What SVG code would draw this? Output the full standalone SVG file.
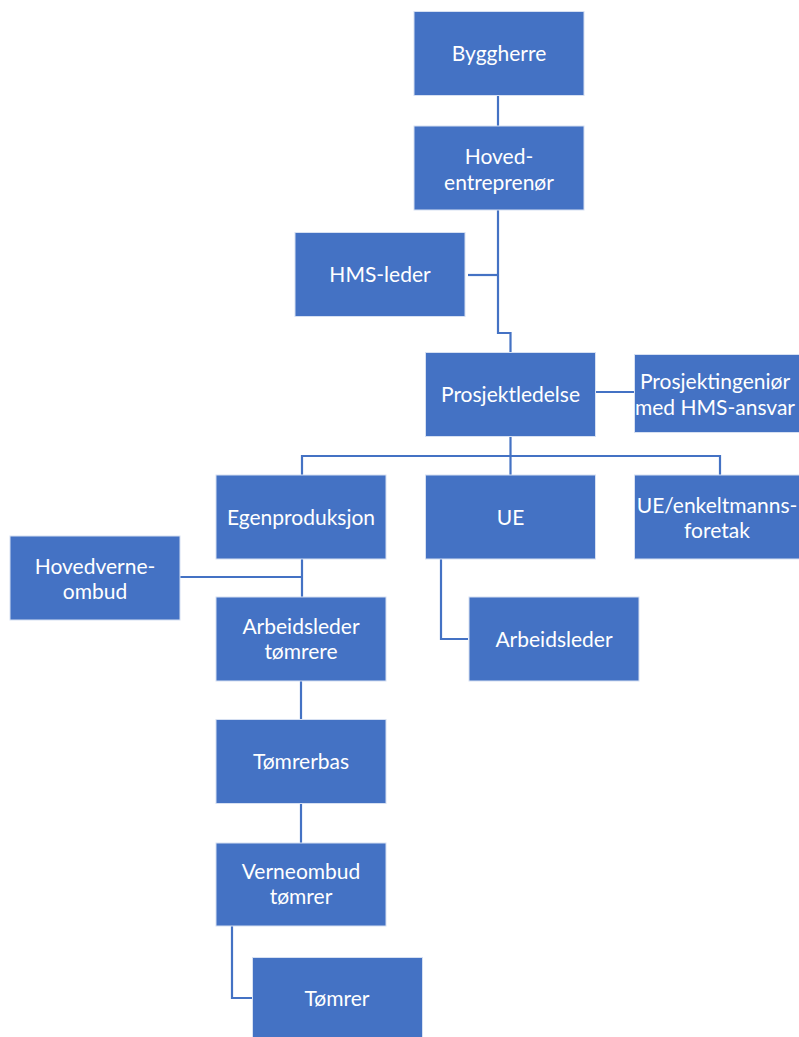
<svg xmlns="http://www.w3.org/2000/svg" width="799" height="1037" viewBox="0 0 799 1037">
<style>
.n{fill:#4472C4;stroke:#D6E0F2;stroke-width:1}
.t{fill:#fff;font-family:Lato,"Open Sans","Liberation Sans",sans-serif;font-size:21px;text-anchor:middle;dominant-baseline:central}
.c{fill:none;stroke:#4472C4;stroke-width:2.2}
</style>
<rect width="799" height="1037" fill="#fff"/>
<g id="connectors">
<path class="c" d="M498,95V126"/>
<path class="c" d="M498,210V333H510.5V352"/>
<path class="c" d="M468,275H498"/>
<path class="c" d="M596,392H634"/>
<path class="c" d="M510.5,437V475"/>
<path class="c" d="M302,475V456H720V475"/>
<path class="c" d="M302,559V597"/>
<path class="c" d="M180,577H302"/>
<path class="c" d="M441,559V639H468"/>
<path class="c" d="M301,681V719"/>
<path class="c" d="M301,804V843"/>
<path class="c" d="M232,926V998H252"/>
</g>
<g id="byggherre"><rect class="n" x="414" y="11.5" width="170" height="84"/><text class="t" x="499" y="52">Byggherre</text></g>
<g id="hovedentreprenor"><rect class="n" x="414" y="126" width="170" height="84"/><text class="t" x="499" y="155">Hoved-</text><text class="t" x="499" y="181">entreprenør</text></g>
<g id="hmsleder"><rect class="n" x="295" y="232.5" width="170" height="84"/><text class="t" x="380" y="273">HMS-leder</text></g>
<g id="prosjektledelse"><rect class="n" x="425.5" y="352.5" width="170" height="84"/><text class="t" x="510.5" y="393">Prosjektledelse</text></g>
<g id="prosjektingenior"><rect class="n" x="634.5" y="354.5" width="170" height="78"/><text class="t" x="715" y="380">Prosjektingeniør</text><text class="t" x="715" y="406">med HMS-ansvar</text></g>
<g id="egenproduksjon"><rect class="n" x="216" y="475" width="170" height="84"/><text class="t" x="301" y="516">Egenproduksjon</text></g>
<g id="ue"><rect class="n" x="425.5" y="475" width="170" height="84"/><text class="t" x="510.5" y="516">UE</text></g>
<g id="ueenkelt"><rect class="n" x="634.5" y="475" width="170" height="84"/><text class="t" x="717" y="504">UE/enkeltmanns-</text><text class="t" x="717" y="529">foretak</text></g>
<g id="hovedverneombud"><rect class="n" x="10" y="536" width="170" height="84"/><text class="t" x="95" y="565">Hovedverne-</text><text class="t" x="95" y="590">ombud</text></g>
<g id="arbeidsledertomrere"><rect class="n" x="216" y="597" width="170" height="84"/><text class="t" x="301" y="625">Arbeidsleder</text><text class="t" x="301" y="650">tømrere</text></g>
<g id="arbeidsleder"><rect class="n" x="469" y="597" width="170" height="84"/><text class="t" x="554" y="638">Arbeidsleder</text></g>
<g id="tomrerbas"><rect class="n" x="216" y="719.5" width="170" height="84"/><text class="t" x="301" y="760">Tømrerbas</text></g>
<g id="verneombud"><rect class="n" x="216" y="843" width="170" height="83"/><text class="t" x="301" y="870">Verneombud</text><text class="t" x="301" y="895">tømrer</text></g>
<g id="tomrer"><rect class="n" x="252.5" y="957.5" width="170" height="84"/><text class="t" x="337" y="997">Tømrer</text></g>
</svg>
